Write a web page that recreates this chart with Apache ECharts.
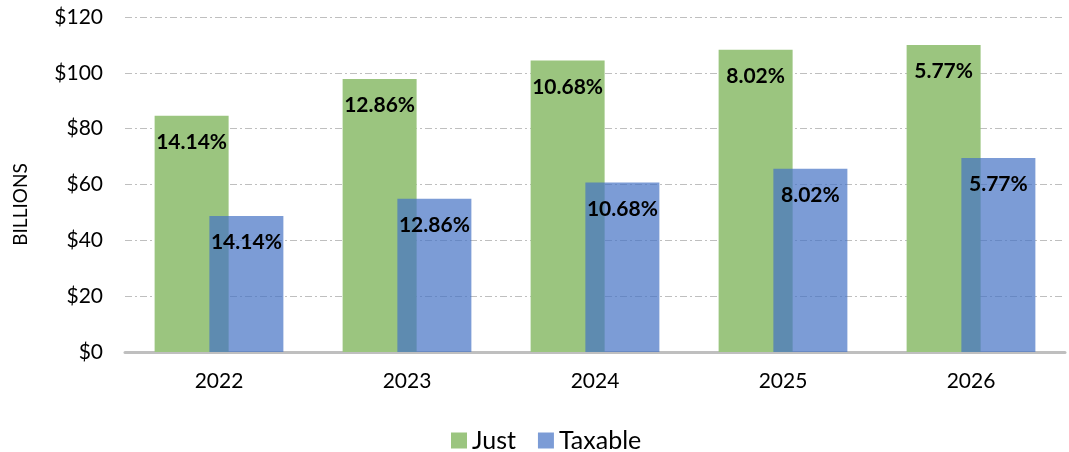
<!DOCTYPE html>
<html><head><meta charset="utf-8">
<script src="https://cdn.jsdelivr.net/npm/echarts@6/dist/echarts.min.js"></script>
<style>html,body{margin:0;padding:0;background:#fff}#c{width:1069px;height:452px}</style>
</head><body><div id="c"></div>
<script>
const categories = ['2022', '2023', '2024', '2025', '2026'];
const justValues = [84.6, 97.8, 104.4, 108.3, 110.0];
const taxableValues = [48.7, 54.9, 60.7, 65.6, 69.5];
const growthLabels = ['14.14%', '12.86%', '10.68%', '8.02%', '5.77%'];
const yTicks = [0, 20, 40, 60, 80, 100, 120];

const FONT = 'Lato, "Open Sans", sans-serif';
const chart = echarts.init(document.getElementById('c'), null, {renderer: 'canvas'});
const labelCfg = {
  show: true, position: 'insideTop', distance: 16,
  color: '#000', fontWeight: 'bold', fontSize: 21, fontFamily: FONT,
  formatter: p => growthLabels[p.dataIndex]
};
chart.setOption({
  animation: false,
  textStyle: {fontFamily: FONT},
  legend: {
    top: 423, left: 446, itemWidth: 16, itemHeight: 16, itemGap: 22,
    icon: 'rect',
    textStyle: {fontSize: 25, color: '#000', fontFamily: FONT},
    data: ['Just', 'Taxable']
  },
  grid: {left: 125, right: 4, top: 17, bottom: 100},
  xAxis: {
    type: 'category', data: categories,
    axisLine: {lineStyle: {color: '#bfbfbf', width: 3}},
    axisTick: {show: false},
    axisLabel: {color: '#000', fontSize: 21, margin: 19, fontFamily: FONT}
  },
  yAxis: {
    type: 'value', min: yTicks[0], max: yTicks[yTicks.length - 1], interval: 20,
    name: 'BILLIONS', nameLocation: 'middle', nameGap: 95, nameRotate: 90,
    nameTextStyle: {fontSize: 19, color: '#000', fontFamily: FONT, padding: [0, 40, 0, 0]},
    axisLine: {show: false}, axisTick: {show: false},
    axisLabel: {color: '#000', fontSize: 21, margin: 22, fontFamily: FONT, formatter: v => '$' + v},
    splitLine: {lineStyle: {color: '#bfbfbf', width: 1, type: [7, 3, 2, 3]}}
  },
  series: [
    {name: 'Just', type: 'bar', data: justValues, barWidth: 74, barGap: '-26%',
     itemStyle: {color: '#9bc57f'}, label: labelCfg, z: 2},
    {name: 'Taxable', type: 'bar', data: taxableValues, barWidth: 74,
     itemStyle: {color: 'rgba(68,114,196,0.7)'}, label: labelCfg, z: 3}
  ]
});
</script></body></html>
